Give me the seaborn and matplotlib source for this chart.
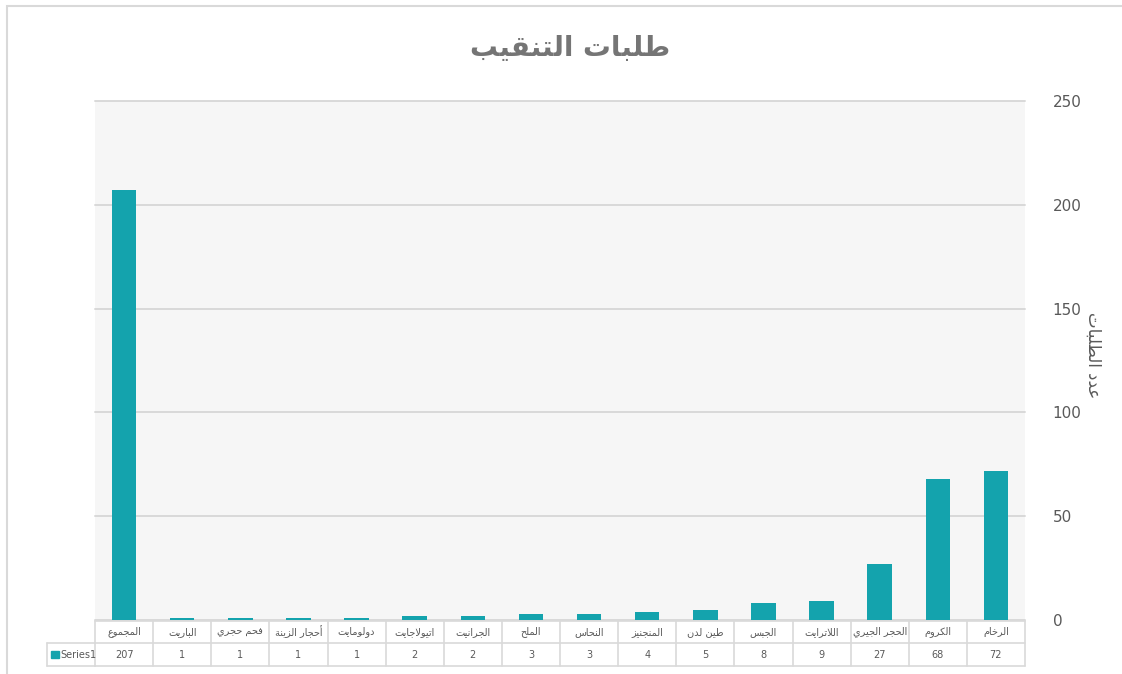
import numpy as np
import pandas as pd
import seaborn as sns
import matplotlib.pyplot as plt
from matplotlib.patches import Rectangle
from matplotlib.transforms import blended_transform_factory

# data, in the chart's reading order (right to left)
categories = ['الرخام', 'الكروم', 'الحجر الجيري', 'اللاترايت', 'الجبس', 'طين لدن',
              'المنجنيز', 'النحاس', 'الملح', 'الجرانيت', 'اتيولاجايت', 'دولومايت',
              'أحجار الزينة', 'فحم حجري', 'الباريت', 'المجموع']
values = [72, 68, 27, 9, 8, 5, 4, 3, 3, 2, 2, 1, 1, 1, 1, 207]
series_name = 'Series1'
title = 'طلبات التنقيب'
y_label = 'عدد الطلبات'
y_ticks = [0, 50, 100, 150, 200, 250]

# matplotlib has no arabic shaping, so map letters to presentation forms by hand
FORMS = {
    'ا': (0xFE8D, 0xFE8E, None, None), 'أ': (0xFE83, 0xFE84, None, None),
    'ب': (0xFE8F, 0xFE90, 0xFE91, 0xFE92), 'ة': (0xFE93, 0xFE94, None, None),
    'ت': (0xFE95, 0xFE96, 0xFE97, 0xFE98), 'ج': (0xFE9D, 0xFE9E, 0xFE9F, 0xFEA0),
    'ح': (0xFEA1, 0xFEA2, 0xFEA3, 0xFEA4), 'خ': (0xFEA5, 0xFEA6, 0xFEA7, 0xFEA8),
    'د': (0xFEA9, 0xFEAA, None, None), 'ر': (0xFEAD, 0xFEAE, None, None),
    'ز': (0xFEAF, 0xFEB0, None, None), 'س': (0xFEB1, 0xFEB2, 0xFEB3, 0xFEB4),
    'ط': (0xFEC1, 0xFEC2, 0xFEC3, 0xFEC4), 'ع': (0xFEC9, 0xFECA, 0xFECB, 0xFECC),
    'ف': (0xFED1, 0xFED2, 0xFED3, 0xFED4), 'ق': (0xFED5, 0xFED6, 0xFED7, 0xFED8),
    'ك': (0xFED9, 0xFEDA, 0xFEDB, 0xFEDC), 'ل': (0xFEDD, 0xFEDE, 0xFEDF, 0xFEE0),
    'م': (0xFEE1, 0xFEE2, 0xFEE3, 0xFEE4), 'ن': (0xFEE5, 0xFEE6, 0xFEE7, 0xFEE8),
    'ه': (0xFEE9, 0xFEEA, 0xFEEB, 0xFEEC), 'و': (0xFEED, 0xFEEE, None, None),
    'ي': (0xFEF1, 0xFEF2, 0xFEF3, 0xFEF4),
}
LAM_ALEF = {'ا': (0xFEFB, 0xFEFC), 'أ': (0xFEF7, 0xFEF8)}


def shape(text):
    toks = []
    i = 0
    while i < len(text):
        if text[i] == 'ل' and i + 1 < len(text) and text[i + 1] in LAM_ALEF:
            toks.append(('LA', text[i + 1]))
            i += 2
        else:
            toks.append(text[i])
            i += 1

    def is_ar(t):
        return isinstance(t, tuple) or t in FORMS

    def joins_next(t):
        return (not isinstance(t, tuple)) and t in FORMS and FORMS[t][2] is not None

    out = []
    for k, t in enumerate(toks):
        prev = k > 0 and joins_next(toks[k - 1])
        if isinstance(t, tuple):
            out.append(chr(LAM_ALEF[t[1]][1 if prev else 0]))
            continue
        if t not in FORMS:
            out.append(t)
            continue
        nxt = joins_next(t) and k + 1 < len(toks) and is_ar(toks[k + 1])
        f = FORMS[t]
        if prev and nxt:
            out.append(chr(f[3]))
        elif prev:
            out.append(chr(f[1]))
        elif nxt:
            out.append(chr(f[2]))
        else:
            out.append(chr(f[0]))
    return ''.join(out[::-1])


sns.set_theme(style="white")
plt.rcParams['font.family'] = ['DejaVu Sans']

bar_color = '#14A3AD'
grey_txt = '#595959'
line_col = '#d9d9d9'

df = pd.DataFrame({'cat': categories, 'val': values})

fig = plt.figure(figsize=(11.22, 6.74), dpi=100)
ax = fig.add_axes([95 / 1122, 1 - 620 / 674, 930 / 1122, 519 / 674])
ax.set_facecolor('#f6f6f6')

sns.barplot(data=df, x='cat', y='val', color=bar_color, saturation=1,
            width=0.42, linewidth=0, ax=ax, zorder=3)

ax.set_xlim(-0.5, len(categories) - 0.5)
ax.invert_xaxis()
ax.set_ylim(0, 250)
ax.set_yticks(y_ticks)
ax.yaxis.tick_right()
ax.tick_params(axis='y', length=0, pad=20, labelsize=11, labelcolor=grey_txt)
for lab in ax.get_yticklabels():
    lab.set_horizontalalignment('left')
ax.set_xticks([])
ax.set_xlabel('')
ax.set_ylabel('')
for s in ax.spines.values():
    s.set_visible(False)
ax.grid(axis='y', color=line_col, lw=1.4, zorder=1)
ax.grid(axis='x', visible=False)
for gl in ax.get_ygridlines():
    gl.set_clip_on(False)

# y axis title on the right
fig.text(1093 / 1122, 1 - 355 / 674, shape(y_label), rotation=270,
         ha='center', va='center', fontsize=12, color=grey_txt)

# chart title
fig.text(570 / 1122, 1 - 48 / 674, shape(title), ha='center', va='center',
         fontsize=20, fontweight='bold', color='#757575')

# data table under the plot
tr = blended_transform_factory(ax.transData, fig.transFigure)
y_top, y_mid, y_bot = 1 - 621 / 674, 1 - 643 / 674, 1 - 666 / 674
n = len(categories)
for yy in (y_top, y_mid, y_bot):
    ax.plot([-0.5, n - 0.5], [yy, yy], color=line_col, lw=1.2, transform=tr, clip_on=False)
for k in range(n + 1):
    ax.plot([k - 0.5, k - 0.5], [y_top, y_bot], color=line_col, lw=1.2,
            transform=tr, clip_on=False)
for k, (c, v) in enumerate(zip(categories, values)):
    ax.text(k, (y_top + y_mid) / 2, shape(c), transform=tr, ha='center', va='center',
            fontsize=7, color=grey_txt)
    ax.text(k, (y_mid + y_bot) / 2, str(v), transform=tr, ha='center', va='center',
            fontsize=7, color=grey_txt)

# series row (left label cell)
x0, x1 = 47 / 1122, 95 / 1122
fig.add_artist(plt.Line2D([x0, x1], [y_mid, y_mid], color=line_col, lw=1.2))
fig.add_artist(plt.Line2D([x0, x1], [y_bot, y_bot], color=line_col, lw=1.2))
fig.add_artist(plt.Line2D([x0, x0], [y_mid, y_bot], color=line_col, lw=1.2))
fig.add_artist(Rectangle((51 / 1122, 1 - 658 / 674), 8 / 1122, 7 / 674,
                         transform=fig.transFigure, color=bar_color))
fig.text(60 / 1122, (y_mid + y_bot) / 2, series_name, ha='left', va='center',
         fontsize=7, color=grey_txt)

# outer chart border
fig.add_artist(Rectangle((6.5 / 1122, -0.05), 1.2, 1 - 5.5 / 674 + 0.05,
                         transform=fig.transFigure, fill=False, ec=line_col, lw=1.5))

fig.savefig('out.png', dpi=100, facecolor='white')
